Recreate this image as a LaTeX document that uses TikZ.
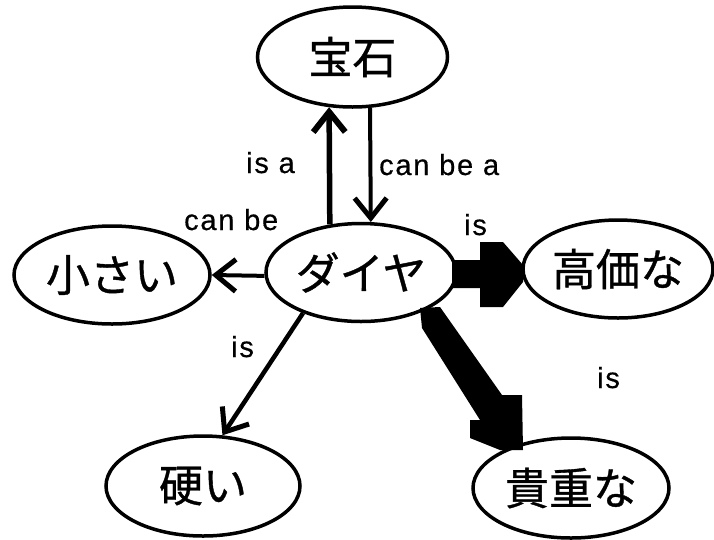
\documentclass[tikz,border=0pt]{standalone}
\usepackage{fontspec}
\newfontfamily\jpfont[FakeBold=0.8]{Noto Sans CJK JP}
\newfontfamily\labfont[LetterSpace=6,FakeBold=0.5]{Liberation Sans}
\usetikzlibrary{shapes.geometric,arrows.meta}
\tikzset{
  concept/.style={draw, line width=3.5pt, ellipse, inner sep=0pt,
    minimum width=#1, minimum height=98pt,
    font=\jpfont\fontsize{44}{48}\selectfont},
  concept/.default=190pt,
  rel/.style={inner sep=0pt, anchor=base west, font=\labfont\fontsize{29}{32}\selectfont},
  vtip/.style={-{Straight Barb[length=20pt,width=32pt,line width=#1]}},
  blockarrow/.style={fill=black}
}
\begin{document}
\begin{tikzpicture}[x=1pt,y=-1pt]
\useasboundingbox (0,0) rectangle (714,539);
% concept nodes
\node[concept, minimum height=100pt] (hoseki) at (352.5,57) {宝石};
\node[concept] (dia) at (361,272.5) {ダイヤ};
\node[concept=196pt] (small) at (112,275) {小さい};
\node[concept] (takai) at (618,269) {高価な};
\node[concept=194pt, minimum height=100pt] (katai) at (203,486) {硬い};
\node[concept=196pt, minimum height=100pt] (kicho) at (571,488) {貴重な};
% relation labels
\node[rel] (l-isa) at (246,173) {is a};
\node[rel] (l-canbea) at (379,175) {can be a};
\node[rel] (l-canbe) at (184,230) {can be};
\node[rel] (l-is1) at (464,235) {is};
\node[rel] (l-is2) at (231,357) {is};
\node[rel] (l-is3) at (597,388) {is};
% thin connectors
\draw[line width=5.5pt, vtip=6pt] (dia.123.8) -- (hoseki.245.2);
\draw[line width=4pt, vtip=5pt] (hoseki.289.6) -- (dia.79.6);
\draw[line width=4pt, vtip=5pt] (dia.182) -- (small.east);
\draw[line width=4.5pt, vtip=5pt] (dia.215) -- (katai.69);
% block arrows
\fill[blockarrow] (dia.center) ++(91,-12.5) -- ++(28,0) -- ++(0,-18) -- ++(23,0)
  -- ++(20,23) -- ++(0,17) -- ++(-20,25) -- ++(-23,0) -- ++(0,-19) -- ++(-28,0) -- cycle;
\fill[blockarrow] (dia.center) ++(59,35.5) -- ++(20,-1) -- ++(62,88) -- ++(20,0)
  -- ++(1,55) -- ++(-23,0) -- ++(-30,-12) -- ++(0,-18) -- ++(10,0) -- ++(-58,-92) -- cycle;
\path (takai.west) (kicho.north);
\end{tikzpicture}
\end{document}
